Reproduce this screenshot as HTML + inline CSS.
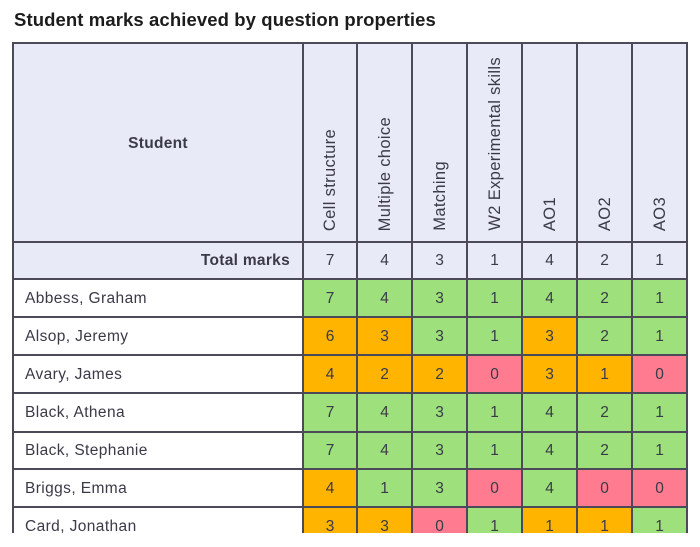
<!DOCTYPE html>
<html><head><meta charset="utf-8">
<style>
html,body{margin:0;padding:0;background:#fff;}
body{width:700px;height:547px;position:relative;overflow:hidden;font-family:"Liberation Sans",sans-serif;color:#3a3a48;}
.title{position:absolute;left:14px;top:9px;font-size:18.5px;font-weight:bold;color:#1c1c1c;letter-spacing:0.1px;white-space:nowrap;}
.wrap{position:absolute;left:0;top:0;width:700px;height:533px;overflow:hidden;}
.c{position:absolute;box-sizing:border-box;display:flex;align-items:center;justify-content:center;font-size:15.5px;padding-top:1px;}
.hl{position:absolute;background:#4a4a58;}
.vt{position:absolute;writing-mode:vertical-rl;transform:rotate(180deg);font-size:16.5px;white-space:nowrap;letter-spacing:0.35px;}
.g{background:#9de07c;}.o{background:#ffb400;}.p{background:#ff7b8f;}
.name{justify-content:flex-start;padding-left:12px;letter-spacing:0.4px;}
</style></head><body>
<div class="title">Student marks achieved by question properties</div>
<div class="wrap">
<!-- header background -->
<div class="c" style="left:13px;top:43px;width:674px;height:236px;background:#e8eaf8;"></div>
<div class="c" style="left:13px;top:43px;width:290px;height:199px;font-weight:bold;letter-spacing:0.3px;padding-top:2px;">Student</div>
<div class="c" style="left:13px;top:242px;width:290px;height:37px;justify-content:flex-end;padding-right:13px;font-weight:bold;letter-spacing:0.3px;">Total marks</div>

<!-- vertical headers -->
<div class="vt" style="left:321px;bottom:302px;">Cell structure</div>
<div class="vt" style="left:376px;bottom:302px;">Multiple choice</div>
<div class="vt" style="left:431px;bottom:302px;">Matching</div>
<div class="vt" style="left:486px;bottom:302px;">W2 Experimental skills</div>
<div class="vt" style="left:541px;bottom:302px;">AO1</div>
<div class="vt" style="left:596px;bottom:302px;">AO2</div>
<div class="vt" style="left:651px;bottom:302px;">AO3</div>

<!-- totals -->
<div class="c" style="left:303px;top:242px;width:54px;height:37px;">7</div>
<div class="c" style="left:357px;top:242px;width:55px;height:37px;">4</div>
<div class="c" style="left:412px;top:242px;width:55px;height:37px;">3</div>
<div class="c" style="left:467px;top:242px;width:55px;height:37px;">1</div>
<div class="c" style="left:522px;top:242px;width:55px;height:37px;">4</div>
<div class="c" style="left:577px;top:242px;width:55px;height:37px;">2</div>
<div class="c" style="left:632px;top:242px;width:55px;height:37px;">1</div>

<!-- rows -->
<div class="c name" style="left:13px;top:279px;width:290px;height:38px;">Abbess, Graham</div>
<div class="c g" style="left:303px;top:279px;width:54px;height:38px;">7</div>
<div class="c g" style="left:357px;top:279px;width:55px;height:38px;">4</div>
<div class="c g" style="left:412px;top:279px;width:55px;height:38px;">3</div>
<div class="c g" style="left:467px;top:279px;width:55px;height:38px;">1</div>
<div class="c g" style="left:522px;top:279px;width:55px;height:38px;">4</div>
<div class="c g" style="left:577px;top:279px;width:55px;height:38px;">2</div>
<div class="c g" style="left:632px;top:279px;width:55px;height:38px;">1</div>

<div class="c name" style="left:13px;top:317px;width:290px;height:38px;">Alsop, Jeremy</div>
<div class="c o" style="left:303px;top:317px;width:54px;height:38px;">6</div>
<div class="c o" style="left:357px;top:317px;width:55px;height:38px;">3</div>
<div class="c g" style="left:412px;top:317px;width:55px;height:38px;">3</div>
<div class="c g" style="left:467px;top:317px;width:55px;height:38px;">1</div>
<div class="c o" style="left:522px;top:317px;width:55px;height:38px;">3</div>
<div class="c g" style="left:577px;top:317px;width:55px;height:38px;">2</div>
<div class="c g" style="left:632px;top:317px;width:55px;height:38px;">1</div>

<div class="c name" style="left:13px;top:355px;width:290px;height:38px;">Avary, James</div>
<div class="c o" style="left:303px;top:355px;width:54px;height:38px;">4</div>
<div class="c o" style="left:357px;top:355px;width:55px;height:38px;">2</div>
<div class="c o" style="left:412px;top:355px;width:55px;height:38px;">2</div>
<div class="c p" style="left:467px;top:355px;width:55px;height:38px;">0</div>
<div class="c o" style="left:522px;top:355px;width:55px;height:38px;">3</div>
<div class="c o" style="left:577px;top:355px;width:55px;height:38px;">1</div>
<div class="c p" style="left:632px;top:355px;width:55px;height:38px;">0</div>

<div class="c name" style="left:13px;top:393px;width:290px;height:39px;">Black, Athena</div>
<div class="c g" style="left:303px;top:393px;width:54px;height:39px;">7</div>
<div class="c g" style="left:357px;top:393px;width:55px;height:39px;">4</div>
<div class="c g" style="left:412px;top:393px;width:55px;height:39px;">3</div>
<div class="c g" style="left:467px;top:393px;width:55px;height:39px;">1</div>
<div class="c g" style="left:522px;top:393px;width:55px;height:39px;">4</div>
<div class="c g" style="left:577px;top:393px;width:55px;height:39px;">2</div>
<div class="c g" style="left:632px;top:393px;width:55px;height:39px;">1</div>

<div class="c name" style="left:13px;top:432px;width:290px;height:37px;">Black, Stephanie</div>
<div class="c g" style="left:303px;top:432px;width:54px;height:37px;">7</div>
<div class="c g" style="left:357px;top:432px;width:55px;height:37px;">4</div>
<div class="c g" style="left:412px;top:432px;width:55px;height:37px;">3</div>
<div class="c g" style="left:467px;top:432px;width:55px;height:37px;">1</div>
<div class="c g" style="left:522px;top:432px;width:55px;height:37px;">4</div>
<div class="c g" style="left:577px;top:432px;width:55px;height:37px;">2</div>
<div class="c g" style="left:632px;top:432px;width:55px;height:37px;">1</div>

<div class="c name" style="left:13px;top:469px;width:290px;height:38px;">Briggs, Emma</div>
<div class="c o" style="left:303px;top:469px;width:54px;height:38px;">4</div>
<div class="c g" style="left:357px;top:469px;width:55px;height:38px;">1</div>
<div class="c g" style="left:412px;top:469px;width:55px;height:38px;">3</div>
<div class="c p" style="left:467px;top:469px;width:55px;height:38px;">0</div>
<div class="c g" style="left:522px;top:469px;width:55px;height:38px;">4</div>
<div class="c p" style="left:577px;top:469px;width:55px;height:38px;">0</div>
<div class="c p" style="left:632px;top:469px;width:55px;height:38px;">0</div>

<div class="c name" style="left:13px;top:507px;width:290px;height:38px;">Card, Jonathan</div>
<div class="c o" style="left:303px;top:507px;width:54px;height:38px;">3</div>
<div class="c o" style="left:357px;top:507px;width:55px;height:38px;">3</div>
<div class="c p" style="left:412px;top:507px;width:55px;height:38px;">0</div>
<div class="c g" style="left:467px;top:507px;width:55px;height:38px;">1</div>
<div class="c o" style="left:522px;top:507px;width:55px;height:38px;">1</div>
<div class="c o" style="left:577px;top:507px;width:55px;height:38px;">1</div>
<div class="c g" style="left:632px;top:507px;width:55px;height:38px;">1</div>

<!-- horizontal lines -->
<div class="hl" style="left:13px;top:42px;width:675px;height:2px;"></div>
<div class="hl" style="left:13px;top:241px;width:675px;height:2px;"></div>
<div class="hl" style="left:13px;top:278px;width:675px;height:2px;"></div>
<div class="hl" style="left:13px;top:316px;width:675px;height:1.5px;"></div>
<div class="hl" style="left:13px;top:354px;width:675px;height:1.5px;"></div>
<div class="hl" style="left:13px;top:392px;width:675px;height:1.5px;"></div>
<div class="hl" style="left:13px;top:431px;width:675px;height:1.5px;"></div>
<div class="hl" style="left:13px;top:468px;width:675px;height:1.5px;"></div>
<div class="hl" style="left:13px;top:506px;width:675px;height:1.5px;"></div>
<!-- vertical lines -->
<div class="hl" style="left:12px;top:42px;width:2px;height:500px;"></div>
<div class="hl" style="left:302px;top:42px;width:1.5px;height:500px;"></div>
<div class="hl" style="left:356px;top:42px;width:1.5px;height:500px;"></div>
<div class="hl" style="left:411px;top:42px;width:1.5px;height:500px;"></div>
<div class="hl" style="left:466px;top:42px;width:1.5px;height:500px;"></div>
<div class="hl" style="left:521px;top:42px;width:1.5px;height:500px;"></div>
<div class="hl" style="left:576px;top:42px;width:1.5px;height:500px;"></div>
<div class="hl" style="left:631px;top:42px;width:1.5px;height:500px;"></div>
<div class="hl" style="left:686px;top:42px;width:2px;height:500px;"></div>
</div>
</body></html>
